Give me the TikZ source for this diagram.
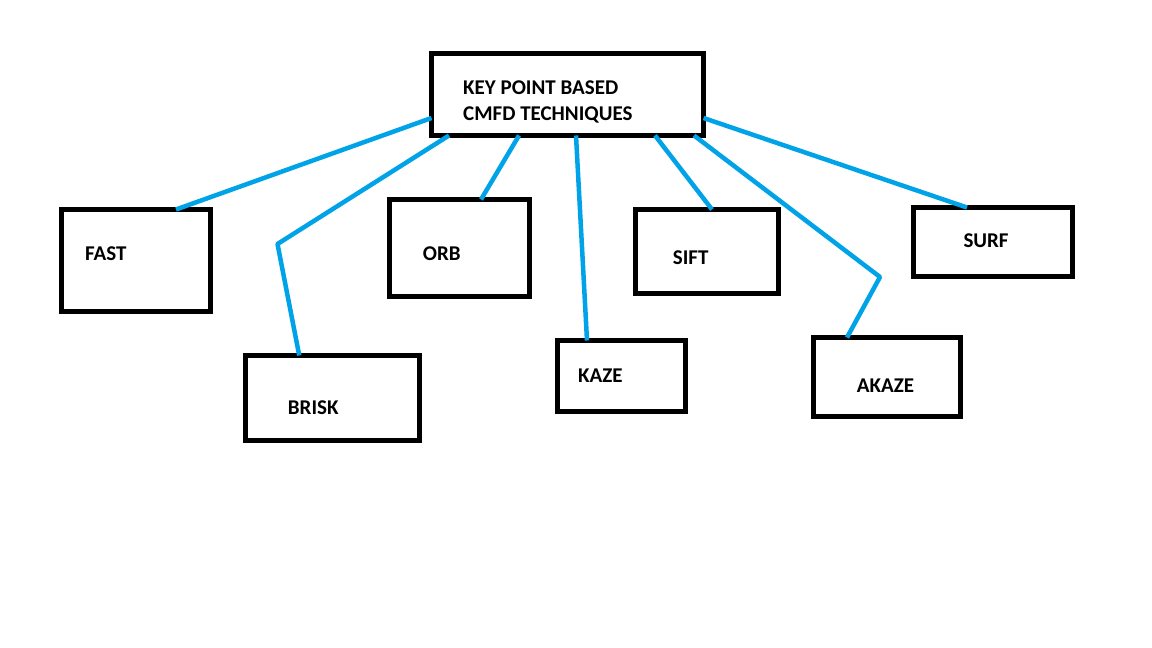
\documentclass[tikz,border=0pt]{standalone}
\usepackage{fontspec}
\setmainfont{Carlito}
\usetikzlibrary{calc}
\definecolor{LinkBlue}{HTML}{00A2E8}

\begin{document}
\begin{tikzpicture}[x=1pt,y=1pt,
    box/.style 2 args={draw=black,line width=5pt,outer sep=0pt,inner sep=0pt,minimum width=#1,minimum height=#2},
    tag/.style={anchor=base west,inner sep=0pt,font=\bfseries\fontsize{21}{24}\selectfont},
    link/.style={draw=LinkBlue,line width=4.5pt,line join=round}]
        \useasboundingbox (0,0) rectangle (1152,648);
        % boxes
        \node[box={272}{82}] (top) at (567.5,553.5) {};
        \node[box={149}{102}] (fast) at (136,387.5) {};
        \node[box={173.5}{85}] (brisk) at (332.25,250) {};
        \node[box={139.5}{97}] (orb) at (459.25,400) {};
        \node[box={128}{71}] (kaze) at (621.5,272) {};
        \node[box={143}{84}] (sift) at (707,396.5) {};
        \node[box={147}{79}] (akaze) at (887,271) {};
        \node[box={158.5}{69}] (surf) at (992.75,406) {};
        % labels
        \node[tag] (title1) at (463,553) {KEY POINT BASED};
        \node[tag] (title2) at (463,527) {CMFD TECHNIQUES};
        \node[tag] (fastlbl) at (85,387) {FAST};
        \node[tag] (brisklbl) at (287.7,233) {BRISK};
        \node[tag] (orblbl) at (422.7,387) {ORB};
        \node[tag] (kazelbl) at (578,265) {KAZE};
        \node[tag] (siftlbl) at (672.7,383) {SIFT};
        \node[tag] (akazelbl) at (856.7,255) {AKAZE};
        \node[tag] (surflbl) at (963.3,400) {SURF};
        % bends
        \coordinate (briskbend) at (277.5,404);
        \coordinate (akazebend) at (880,371);
        % connectors
        \draw[link] ([yshift=-23.5]top.west) -- ([xshift=40]fast.north);
        \draw[link] ([xshift=-118.5]top.south) -- (briskbend) -- ([xshift=-33]brisk.north);
        \draw[link] ([xshift=-48.5]top.south) -- ([xshift=21.75]orb.north);
        \draw[link] ([xshift=8.5]top.south) -- ([xshift=-34.5]kaze.north);
        \draw[link] ([xshift=87.5]top.south) -- ([xshift=5]sift.north);
        \draw[link] ([xshift=126.5]top.south) -- (akazebend) -- ([xshift=-40]akaze.north);
        \draw[link] ([yshift=-23.5]top.east) -- ([xshift=-25.75]surf.north);
\end{tikzpicture}
\end{document}
